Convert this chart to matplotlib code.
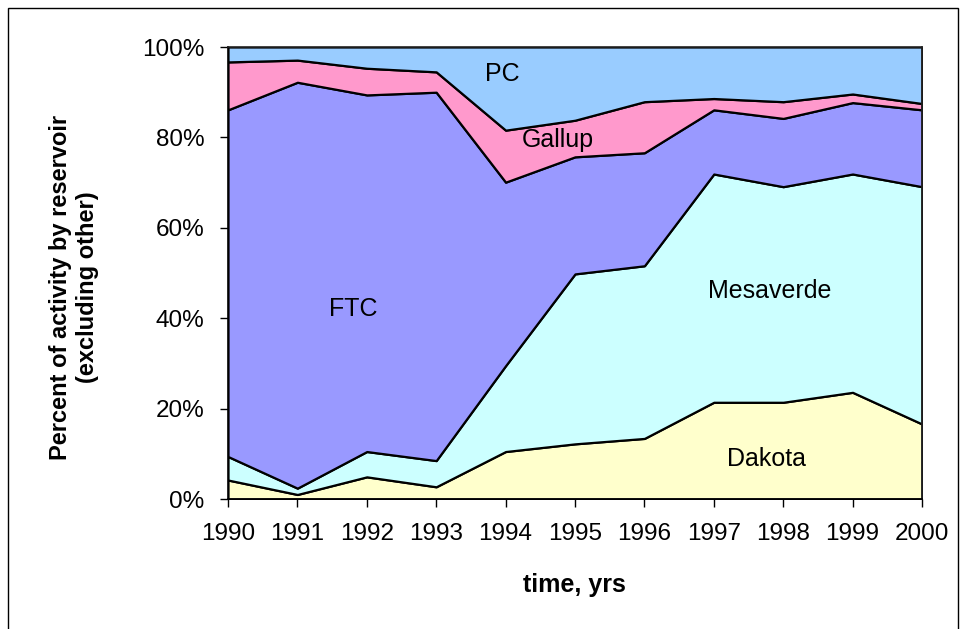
import matplotlib
matplotlib.use("Agg")
import matplotlib.pyplot as plt
from matplotlib.ticker import FuncFormatter
from matplotlib.patches import Rectangle

years = [1990, 1991, 1992, 1993, 1994, 1995, 1996, 1997, 1998, 1999, 2000]
dakota = [4.2, 1.0, 4.9, 2.7, 10.5, 12.2, 13.4, 21.4, 21.4, 23.6, 16.6]
mesaverde = [5.2, 1.4, 5.6, 5.8, 19.0, 37.6, 38.2, 50.5, 47.7, 48.3, 52.5]
ftc = [76.7, 89.8, 78.9, 81.5, 40.6, 25.9, 25.0, 14.2, 15.1, 15.8, 17.0]
gallup = [10.6, 4.9, 5.9, 4.5, 11.5, 8.1, 11.3, 2.5, 3.7, 1.9, 1.4]
pc = [3.3, 2.9, 4.7, 5.5, 18.4, 16.2, 12.1, 11.4, 12.1, 10.4, 12.5]
series_names = ["Dakota", "Mesaverde", "FTC", "Gallup", "PC"]
colors = ["#FFFFCC", "#CCFFFF", "#9999FF", "#FF99CC", "#99CCFF"]

plt.rcParams['font.family'] = ['Liberation Sans', 'DejaVu Sans']

fig = plt.figure(figsize=(9.61, 6.29), dpi=100)
ax = fig.add_axes([228/961, 1-499/629, (922-228)/961, (499-47)/629])

ax.stackplot(years, dakota, mesaverde, ftc, gallup, pc, colors=colors,
             edgecolor="black", linewidth=1.6, labels=series_names)
ax.set_xlim(1990, 2000)
ax.set_ylim(0, 100)
ax.set_xticks(years)
ax.set_yticks([0, 20, 40, 60, 80, 100])
ax.yaxis.set_major_formatter(FuncFormatter(lambda v, p: f"{int(v)}%"))
ax.tick_params(axis='both', labelsize=17.5, direction='out', length=6, width=1, color='black')
ax.tick_params(axis='y', pad=11)
ax.tick_params(axis='x', pad=11)
for s in ['left', 'bottom']:
    ax.spines[s].set_linewidth(1.2)
for s in ['top', 'right']:
    ax.spines[s].set_linewidth(1.2)
    ax.spines[s].set_color('#222222')

fig.text(574/961, 1-585/629, "time, yrs", fontsize=18, fontweight='bold', ha='center', va='center')
fig.text(74/961, 1-287/629, "Percent of activity by reservoir\n(excluding other)", fontsize=17,
         fontweight='bold', rotation=90, ha='center', va='center', multialignment='center',
         linespacing=1.25)

ax.text(1993.95, 94.0, "PC", fontsize=18, ha='center', va='center')
ax.text(1994.75, 79.4, "Gallup", fontsize=18, ha='center', va='center')
ax.text(1991.8, 42.0, "FTC", fontsize=18, ha='center', va='center')
ax.text(1997.8, 46.0, "Mesaverde", fontsize=18, ha='center', va='center')
ax.text(1997.76, 8.9, "Dakota", fontsize=18, ha='center', va='center')

fig.patches.append(Rectangle((8/961, -0.05), (958-8)/961, 1.05 - 8/629, transform=fig.transFigure,
                             fill=False, edgecolor='black', linewidth=1.0))

fig.savefig("out.png", dpi=100)
